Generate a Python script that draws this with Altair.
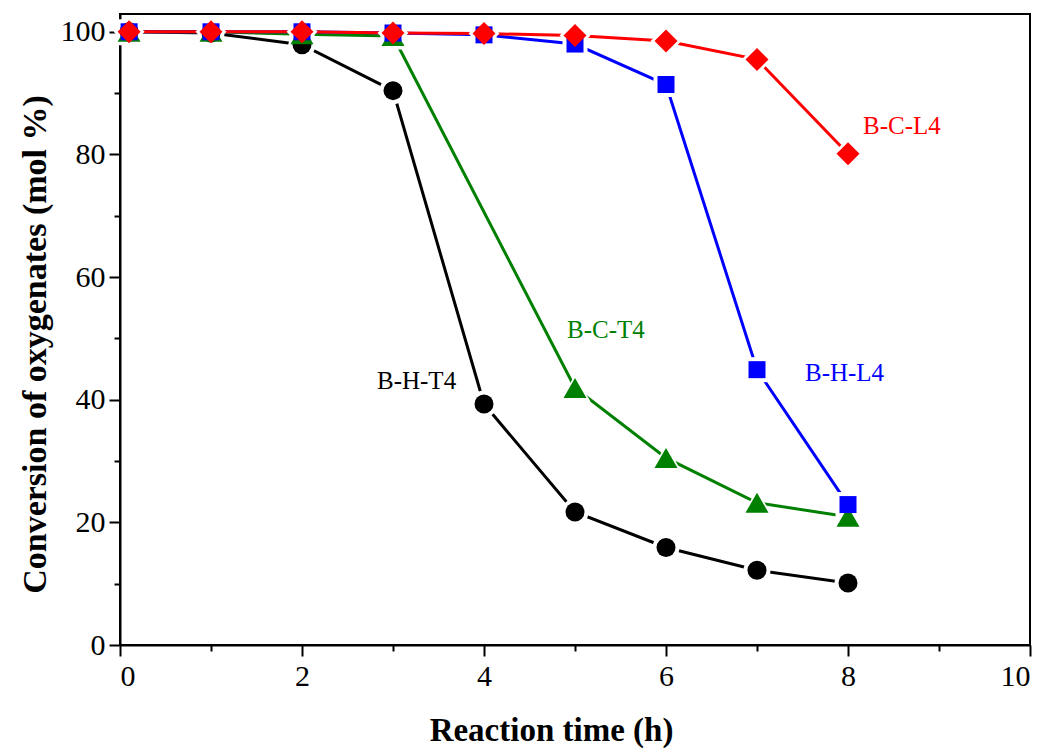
import altair as alt
import pandas as pd

# ---- data ----
times = [0.1, 1, 2, 3, 4, 5, 6, 7, 8]
bht4 = [100, 99.8, 97.9, 90.4, 39.3, 21.7, 15.9, 12.2, 10.1]
bct4_times = [0.1, 1, 2, 3, 5, 6, 7, 8]
bct4 = [100, 100, 99.6, 99.3, 41.9, 30.5, 23.2, 20.9]
bhl4 = [100, 100, 100, 99.8, 99.5, 98.0, 91.4, 44.9, 22.9]
bcl4 = [100, 100, 100, 99.8, 99.7, 99.4, 98.5, 95.5, 80.1]

series_names = ["B-H-T4", "B-C-T4", "B-H-L4", "B-C-L4"]
series_colors = ["#000000", "#008000", "#0000FF", "#FF0000"]
series_shapes = ["circle", "triangle-up", "square", "diamond"]
marker_sizes = [361, 529, 289, 529]
halo_sizes = [729, 961, 625, 961]

label_x = [2.824, 4.912, 7.527, 8.165]
label_y = [41.8, 50.1, 43.1, 83.4]

series_x = [times, bct4_times, times, times]
series_y = [bht4, bct4, bhl4, bcl4]

x_major = [0, 2, 4, 6, 8, 10]
x_minor = [1, 3, 5, 7, 9]
y_major = [0, 20, 40, 60, 80, 100]
y_minor = [10, 30, 50, 70, 90]

FONT = "Liberation Serif"

x_axis = alt.Axis(
    orient="bottom", values=x_major, tickSize=11,
    tickWidth=2, tickColor="black", domainColor="black", domainWidth=2,
    labelFont=FONT, labelFontSize=30, labelColor="black", labelPadding=5,
    grid=False, title="Reaction time (h)", titleFont=FONT, titleFontSize=33,
    titleFontWeight="bold", titleColor="black", titleX=431, titleY=95,
    titleBaseline="alphabetic", titleAlign="center",
)
y_axis = alt.Axis(
    orient="left", values=y_major, tickSize=11,
    tickWidth=2, tickColor="black", domainColor="black", domainWidth=2,
    labelFont=FONT, labelFontSize=30, labelColor="black", labelPadding=4,
    grid=False, title="Conversion of oxygenates (mol %)", titleFont=FONT,
    titleFontSize=34, titleFontWeight="bold", titleColor="black",
    titleAngle=270, titleX=-75, titleY=330, titleBaseline="alphabetic",
    titleAlign="center",
)
x_minor_axis = alt.Axis(orient="bottom", values=x_minor, tickSize=6, tickWidth=2,
                        tickColor="black", labels=False, domain=False, grid=False,
                        title=None)
y_minor_axis = alt.Axis(orient="left", values=y_minor, tickSize=6, tickWidth=2,
                        tickColor="black", labels=False, domain=False, grid=False,
                        title=None)

xs = alt.Scale(domain=[0, 10], nice=False, zero=False)
ys = alt.Scale(domain=[0, 102.9], nice=False, zero=False)

frames = []
for name, xv, yv in zip(series_names, series_x, series_y):
    frames.append(pd.DataFrame({"time": xv, "conv": yv, "series": name}))

line_layers = []
marker_layers = []
for i, name in enumerate(series_names):
    df = frames[i]
    base = alt.Chart(df)
    line = base.mark_line(color=series_colors[i], strokeWidth=3).encode(
        x=alt.X("time:Q", scale=xs, axis=x_axis if i == 0 else None),
        y=alt.Y("conv:Q", scale=ys, axis=y_axis if i == 0 else None),
    )
    halo = base.mark_point(shape=series_shapes[i], filled=True, fill="white",
                           opacity=1, size=halo_sizes[i], strokeWidth=0).encode(
        x=alt.X("time:Q", scale=xs, axis=x_minor_axis if i == 0 else None),
        y=alt.Y("conv:Q", scale=ys, axis=y_minor_axis if i == 0 else None),
    )
    mark = base.mark_point(shape=series_shapes[i], filled=True,
                           fill=series_colors[i], opacity=1,
                           size=marker_sizes[i], strokeWidth=0).encode(
        x=alt.X("time:Q", scale=xs, axis=None),
        y=alt.Y("conv:Q", scale=ys, axis=None),
    )
    line_layers += [line, halo]
    marker_layers.append(mark)

labels_df = pd.DataFrame({"x": label_x, "y": label_y, "label": series_names,
                          "color": series_colors})
texts = alt.Chart(labels_df).mark_text(font=FONT, fontSize=25, align="left",
                                        baseline="alphabetic").encode(
    x=alt.X("x:Q", scale=xs, axis=None),
    y=alt.Y("y:Q", scale=ys, axis=None),
    text="label:N",
    color=alt.Color("color:N", scale=None),
)

chart = alt.layer(*line_layers, *marker_layers, texts).resolve_axis(
    x="independent", y="independent"
).properties(
    width=910, height=631,
    padding={"left": 120, "top": 14, "right": 20, "bottom": 104},
    autosize=alt.AutoSizeParams(type="none"),
    background="white",
).configure_view(stroke="black", strokeWidth=2)

chart.save("out.html", embed_options={"renderer": "svg", "actions": False})
